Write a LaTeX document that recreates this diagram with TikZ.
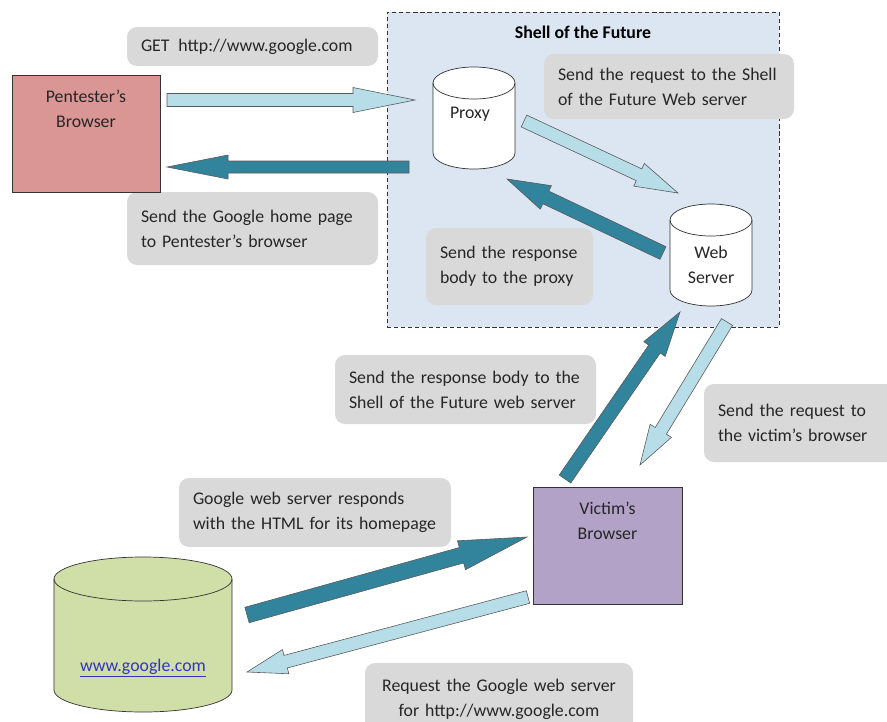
\documentclass[tikz,border=0pt]{standalone}
\usepackage{fontspec}
\setmainfont{Carlito}
\usetikzlibrary{calc, positioning}

\definecolor{pentred}{HTML}{D99694}
\definecolor{victimlila}{HTML}{B3A2C7}
\definecolor{googlegreen}{HTML}{D0DFA8}
\definecolor{shellblue}{HTML}{DCE6F2}
\definecolor{notegray}{HTML}{D9D9D9}
\definecolor{pfeilhell}{HTML}{B7DEE8}
\definecolor{pfeildunkel}{HTML}{31849B}
\definecolor{linkblue}{HTML}{3333CC}

\newcommand{\txtsize}{\fontsize{15.2}{21.3}\selectfont}

% Blockpfeil: Stil, von, nach, halbe Schaftbreite, halbe Kopfbreite, Kopflaenge (in px)
\newcommand{\blockpfeil}[6]{%
  \coordinate (hb) at ($(#3)!#6*0.03cm!(#2)$);
  \draw[#1] ($(#2)!#4*0.03cm!90:(#3)$) -- ($(hb)!#4*0.03cm!90:(#3)$)
    -- ($(hb)!#5*0.03cm!90:(#3)$) -- (#3) -- ($(hb)!#5*0.03cm!-90:(#3)$)
    -- ($(hb)!#4*0.03cm!-90:(#3)$) -- ($(#2)!#4*0.03cm!-90:(#3)$) -- cycle;
}

% Walze: Mitte, halbe Breite, halbe Hoehe, Ellipsenradius (in cm), Fuellung
\newcommand{\walze}[5]{%
  \begin{scope}[shift={(#1)}]
    \draw[drumline, fill=#5] (-#2cm,#3cm-#4cm) -- (-#2cm,-#3cm+#4cm)
      arc[start angle=180, end angle=360, x radius=#2cm, y radius=#4cm]
      -- (#2cm,#3cm-#4cm)
      arc[start angle=0, end angle=180, x radius=#2cm, y radius=#4cm];
    \draw[drumline] (-#2cm,#3cm-#4cm)
      arc[start angle=180, end angle=360, x radius=#2cm, y radius=#4cm];
  \end{scope}
}

\tikzset{
  sz/.style 2 args={minimum width=#1*0.03cm, minimum height=#2*0.03cm},
  note/.style 2 args={fill=notegray, rounded corners=0.3cm, inner sep=0pt,
    align=left, text=black!85, sz={#1}{#2}, text width=(#1-28)*0.03cm},
  box/.style={draw=black!80, line width=0.6pt, inner sep=0pt},
  drumline/.style={draw=black!80, line width=0.6pt},
  lbl/.style={align=center, text=black!85, inner sep=0pt},
  shellbox/.style={draw=black!80, dash pattern=on 3.5pt off 2.5pt, line width=0.6pt,
    fill=shellblue, inner sep=0pt},
  hellpfeil/.style={fill=pfeilhell, draw=black!65, line width=0.5pt},
  dunkelpfeil/.style={fill=pfeildunkel, draw=black!65, line width=0.5pt}
}

\begin{document}
\begin{tikzpicture}[x=0.03cm, y=-0.03cm, font=\txtsize]
  \useasboundingbox (0,0) rectangle (887,722);
  \clip (0,0) rectangle (887,722);

  % Shell of the Future
  \node[shellbox, sz={392}{315}] (shell) at (583,169.5) {};
  \node[lbl, font=\txtsize\bfseries, text=black] (shelltitle) at (583,32) {Shell of the Future};

  % Hinweise
  \node[note={251}{39}] (getnote) at (252.5,46.5) {GET~\,http://www.google.com};
  \node[note={251}{73}] (homenote) at (252.5,228.5) {Send the Google home page\\to Pentester’s browser};
  \node[note={250}{65}] (reqnote) at (669,86.5) {Send the request to the Shell\\of the Future Web server};
  \node[note={167}{77}] (respnote) at (509.5,266.5) {Send the response\\body to the proxy};
  \node[note={261}{69}] (shellnote) at (465.5,389.5) {Send the response body to the\\Shell of the Future web server};
  \node[note={200}{78}] (victimnote) at (804,423) {Send the request to\\the victim’s browser};
  \node[note={272}{69}] (htmlnote) at (315,512.5) {Google web server responds\\with the HTML for its homepage};
  \node[note={268}{72}, align=center] (googlenote) at (499,699) {Request the Google web server\\for http://www.google.com};

  % Browser
  \node[box, fill=pentred, sz={148}{117}] (pent) at (86,133.5) {};
  \node[lbl, below=0.45cm of pent.north] (penttxt) {Pentester’s\\Browser};
  \node[box, fill=victimlila, sz={149}{117}] (victim) at (607.5,545.5) {};
  \node[lbl, below=0.45cm of victim.north] (victimtxt) {Victim’s\\Browser};

  % Server
  \node[inner sep=0pt, sz={82}{102}] (proxy) at (474,118) {};
  \walze{proxy}{1.23}{1.53}{0.48}{white}
  \node[lbl] (proxytxt) at (470,114) {Proxy};
  \node[inner sep=0pt, sz={82}{102}] (websrv) at (711,255) {};
  \walze{websrv}{1.23}{1.53}{0.48}{white}
  \node[lbl] (websrvtxt) at (711,265) {Web\\Server};
  \node[inner sep=0pt, sz={178}{155}] (google) at (143,634.5) {};
  \walze{google}{2.67}{2.325}{0.66}{googlegreen}
  \node[lbl, text=linkblue] (googletxt) at (143,668) {\underline{www.google.com}};

  % Pfeile
  \coordinate (pentout) at (167,100);
  \coordinate (proxyin) at (415,100);
  \coordinate (proxyout) at (409,167);
  \coordinate (pentin) at (167,167);
  \coordinate (proxyreq) at (524,121);
  \coordinate (websrvin) at (678,193);
  \coordinate (websrvresp) at (663,253);
  \coordinate (proxyback) at (507,179);
  \coordinate (victimup) at (565,479);
  \coordinate (websrvbottom) at (680,312);
  \coordinate (websrvdown) at (727,322);
  \coordinate (victimtop) at (640,465);
  \coordinate (googleout) at (247,615);
  \coordinate (victimleft) at (527,537);
  \coordinate (victimreq) at (528,597);
  \coordinate (googlein) at (247,672);

  \blockpfeil{hellpfeil}{pentout}{proxyin}{6.5}{12.5}{62}
  \blockpfeil{dunkelpfeil}{proxyout}{pentin}{6}{12}{61}
  \blockpfeil{hellpfeil}{proxyreq}{websrvin}{6.5}{12.5}{43}
  \blockpfeil{dunkelpfeil}{websrvresp}{proxyback}{7}{13}{43}
  \blockpfeil{dunkelpfeil}{victimup}{websrvbottom}{7}{13}{45}
  \blockpfeil{hellpfeil}{websrvdown}{victimtop}{6.5}{12.5}{40}
  \blockpfeil{dunkelpfeil}{googleout}{victimleft}{8}{15}{68}
  \blockpfeil{hellpfeil}{victimreq}{googlein}{6.5}{12.5}{40}
\end{tikzpicture}
\end{document}
